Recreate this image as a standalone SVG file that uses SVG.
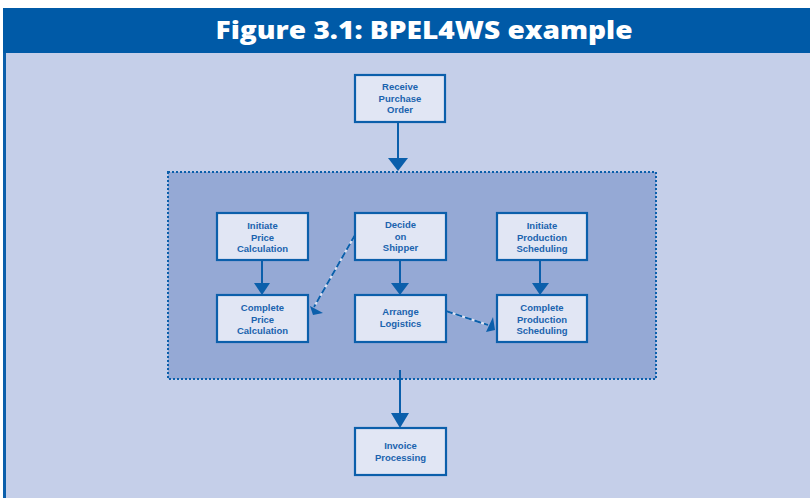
<svg xmlns="http://www.w3.org/2000/svg" width="810" height="498" viewBox="0 0 810 498">
  <defs>
    <style>
      .box { fill: #e1e6f4; stroke: #0b5fab; stroke-width: 2.2; }
      .lbl { font-family: "Liberation Sans", "Open Sans", sans-serif; font-weight: 700; font-size: 9.5px; fill: #1a63ae; text-anchor: middle; }
      .flow { stroke: #0b5fab; stroke-width: 2; fill: none; }
      .dash-bg { stroke: #dfe5f4; stroke-width: 2; fill: none; }
      .dash { stroke: #0b5fab; stroke-width: 2; fill: none; stroke-dasharray: 7 3; }
      .head { fill: #0b5fab; }
    </style>
  </defs>

  <!-- page -->
  <rect x="0" y="0" width="810" height="498" fill="#ffffff"/>
  <rect x="3" y="53" width="807" height="445" fill="#c5cfe9"/>
  <rect x="3" y="53" width="3" height="445" fill="#0b5fab"/>

  <!-- title bar -->
  <rect x="3" y="8" width="807" height="45" fill="#005aa7"/>
  <text x="424" y="39" font-family="'Open Sans', 'Liberation Sans', sans-serif" font-weight="800" font-size="24" fill="#ffffff" text-anchor="middle" textLength="417" lengthAdjust="spacingAndGlyphs">Figure 3.1: BPEL4WS example</text>

  <!-- scope container -->
  <g id="scope">
    <rect x="168" y="172" width="488" height="207" fill="#95a9d5" stroke="#0b5fab" stroke-width="2" stroke-dasharray="2 2"/>
  </g>

  <!-- connectors -->
  <g id="connectors">
    <line class="flow" x1="398" y1="122" x2="398" y2="160"/>
    <polygon class="head" points="388,158 408,158 398,171"/>

    <line class="flow" x1="262" y1="260" x2="262" y2="285"/>
    <polygon class="head" points="254,283 270,283 262,295"/>

    <line class="flow" x1="400" y1="260" x2="400" y2="285"/>
    <polygon class="head" points="391,283 409,283 400,295"/>

    <line class="flow" x1="540" y1="260" x2="540" y2="285"/>
    <polygon class="head" points="532,283 549,283 540,295"/>

    <line class="flow" x1="400" y1="370" x2="400" y2="415"/>
    <polygon class="head" points="391,413 409,413 400,428"/>

    <!-- dashed links -->
    <line class="dash-bg" x1="355" y1="235" x2="314" y2="307"/>
    <line class="dash" x1="355" y1="235" x2="314" y2="307"/>
    <polygon class="head" points="310,306 323,313 313,315"/>

    <line class="dash-bg" x1="446" y1="311" x2="488" y2="325"/>
    <line class="dash" x1="446" y1="311" x2="488" y2="325"/>
    <polygon class="head" points="493,317 486,332 495,330"/>
  </g>

  <!-- nodes -->
  <g id="receive-po">
    <rect class="box" x="355" y="75" width="90" height="47"/>
    <text class="lbl" x="400" y="90">Receive</text>
    <text class="lbl" x="400" y="101.5">Purchase</text>
    <text class="lbl" x="400" y="113">Order</text>
  </g>

  <g id="initiate-price">
    <rect class="box" x="217" y="213" width="91" height="47"/>
    <text class="lbl" x="262.5" y="229">Initiate</text>
    <text class="lbl" x="262.5" y="240.5">Price</text>
    <text class="lbl" x="262.5" y="252">Calculation</text>
  </g>

  <g id="decide-shipper">
    <rect class="box" x="355" y="213" width="91" height="47"/>
    <text class="lbl" x="400.5" y="228">Decide</text>
    <text class="lbl" x="400.5" y="239.5">on</text>
    <text class="lbl" x="400.5" y="251">Shipper</text>
  </g>

  <g id="initiate-production">
    <rect class="box" x="497" y="213" width="90" height="47"/>
    <text class="lbl" x="542" y="229">Initiate</text>
    <text class="lbl" x="542" y="240.5">Production</text>
    <text class="lbl" x="542" y="252">Scheduling</text>
  </g>

  <g id="complete-price">
    <rect class="box" x="217" y="295" width="91" height="47"/>
    <text class="lbl" x="262.5" y="311">Complete</text>
    <text class="lbl" x="262.5" y="322.5">Price</text>
    <text class="lbl" x="262.5" y="334">Calculation</text>
  </g>

  <g id="arrange-logistics">
    <rect class="box" x="355" y="295" width="91" height="47"/>
    <text class="lbl" x="400.5" y="315">Arrange</text>
    <text class="lbl" x="400.5" y="327">Logistics</text>
  </g>

  <g id="complete-production">
    <rect class="box" x="497" y="295" width="90" height="47"/>
    <text class="lbl" x="542" y="311">Complete</text>
    <text class="lbl" x="542" y="322.5">Production</text>
    <text class="lbl" x="542" y="334">Scheduling</text>
  </g>

  <g id="invoice-processing">
    <rect class="box" x="355" y="428" width="91" height="47"/>
    <text class="lbl" x="400.5" y="448.5">Invoice</text>
    <text class="lbl" x="400.5" y="460.5">Processing</text>
  </g>
</svg>
